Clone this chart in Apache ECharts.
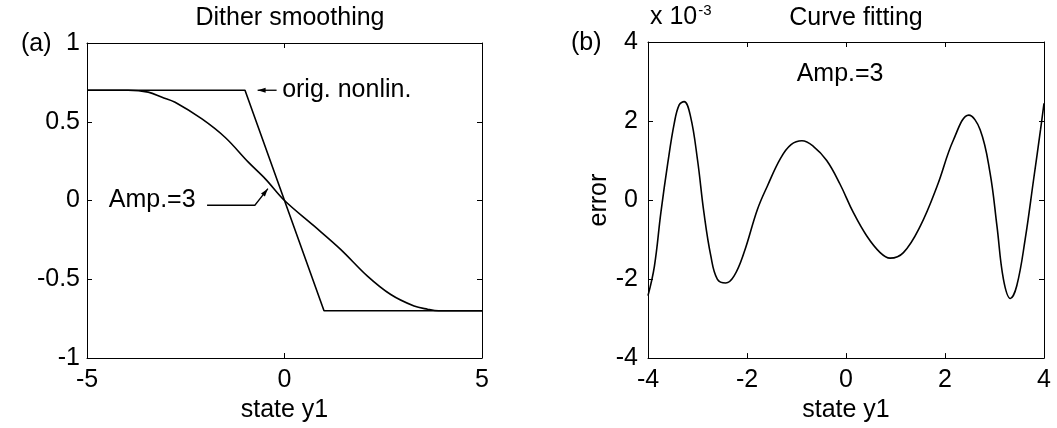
<!DOCTYPE html>
<html>
<head>
<meta charset="utf-8">
<script src="https://cdn.jsdelivr.net/npm/echarts@6/dist/echarts.min.js"></script>
<style>
  html, body { margin: 0; padding: 0; background: #fff; }
  #chart { width: 1057px; height: 428px; }
</style>
</head>
<body>
<div id="chart"></div>
<script>
// (a) original saturation nonlinearity
var satX = [-5, -1, 1, 5];
var satY = [0.7, 0.7, -0.7, -0.7];

// (a) dither-smoothed nonlinearity, Amp.=3
var ditherX = [-5, -4.5, -3.96, -3.45, -3.1, -2.77, -2.09, -1.5, -0.91, -0.48, 0, 0.74, 1.42, 2.1, 2.69, 3.28, 3.62, 3.9, 4.5, 5];
var ditherY = [0.7, 0.7, 0.7, 0.688, 0.656, 0.624, 0.518, 0.40, 0.242, 0.136, 0, -0.16, -0.31, -0.48, -0.597, -0.67, -0.69, -0.7, -0.7, -0.7];

// (b) curve fitting error, in units of 10^-3
var errX = [-4.0, -3.87, -3.74, -3.6, -3.47, -3.37, -3.27, -3.14, -3.0, -2.87, -2.73, -2.6, -2.43, -2.26, -2.06, -1.79, -1.59, -1.32, -1.11, -0.89, -0.66, -0.39, -0.12, 0.15, 0.42, 0.69, 0.89, 1.16, 1.5, 1.84, 2.17, 2.48, 2.71, 2.91, 3.05, 3.18, 3.32, 3.45, 3.62, 3.79, 3.93, 4.0];
var errY = [-2.42, -1.67, -0.32, 0.94, 1.94, 2.41, 2.49, 2.11, 1.02, -0.32, -1.42, -2.0, -2.1, -1.92, -1.33, -0.24, 0.35, 1.06, 1.4, 1.5, 1.36, 1.0, 0.4, -0.32, -0.91, -1.33, -1.47, -1.33, -0.66, 0.35, 1.52, 2.15, 1.78, 0.69, -0.66, -2.0, -2.49, -2.17, -0.99, 0.52, 1.78, 2.45];

function pairs(xs, ys) {
  var out = [];
  for (var i = 0; i < xs.length; i++) out.push([xs[i], ys[i]]);
  return out;
}

var FONT = 'Liberation Sans, Arial, sans-serif';
var FS = 25;

function axis(pos, grid, min, max, step, labels, margin) {
  return {
    type: 'value', gridIndex: grid, position: pos,
    min: min, max: max, interval: step,
    axisLine: { show: true, onZero: false, lineStyle: { color: '#000', width: 1 } },
    axisTick: { show: true, inside: true, length: 5, lineStyle: { color: '#000' } },
    axisLabel: { show: labels, color: '#000', fontSize: FS, fontFamily: FONT, margin: margin },
    splitLine: { show: false }
  };
}

var chart = echarts.init(document.getElementById('chart'));

var xa0 = axis('bottom', 0, -5, 5, 5, true, 10);
xa0.name = 'state y1'; xa0.nameLocation = 'middle'; xa0.nameGap = 39;
xa0.nameTextStyle = { color: '#000', fontSize: FS, fontFamily: FONT };
var xa1 = axis('bottom', 1, -4, 4, 2, true, 10);
xa1.name = 'state y1'; xa1.nameLocation = 'middle'; xa1.nameGap = 39;
xa1.nameTextStyle = { color: '#000', fontSize: FS, fontFamily: FONT };
var ya1 = axis('left', 1, -4, 4, 2, true, 10);
ya1.name = 'error'; ya1.nameLocation = 'middle'; ya1.nameGap = 33;
ya1.nameTextStyle = { color: '#000', fontSize: FS, fontFamily: FONT };

var lineStyle = { color: '#000', width: 1.6 };

var option = {
  animation: false,
  backgroundColor: '#fff',
  title: [
    { text: 'Dither smoothing', left: 285, top: 1, textAlign: 'center',
      textStyle: { color: '#000', fontSize: FS, fontWeight: 'normal', fontFamily: FONT } },
    { text: 'Curve fitting', left: 851, top: 1, textAlign: 'center',
      textStyle: { color: '#000', fontSize: FS, fontWeight: 'normal', fontFamily: FONT } }
  ],
  grid: [
    { left: 87, top: 43, width: 395, height: 315 },
    { left: 648, top: 42, width: 396, height: 317 }
  ],
  xAxis: [
    xa0,
    axis('top', 0, -5, 5, 5, false, 8),
    xa1,
    axis('top', 1, -4, 4, 2, false, 8)
  ],
  yAxis: [
    axis('left', 0, -1, 1, 0.5, true, 7),
    axis('right', 0, -1, 1, 0.5, false, 8),
    ya1,
    axis('right', 1, -4, 4, 2, false, 8)
  ],
  series: [
    { name: 'orig. nonlin.', type: 'line', xAxisIndex: 0, yAxisIndex: 0,
      data: pairs(satX, satY), showSymbol: false, lineStyle: lineStyle },
    { name: 'Amp.=3', type: 'line', xAxisIndex: 0, yAxisIndex: 0,
      data: pairs(ditherX, ditherY), smooth: 0.35,
      showSymbol: false, lineStyle: lineStyle },
    { name: 'error', type: 'line', xAxisIndex: 2, yAxisIndex: 2,
      data: pairs(errX, errY), smooth: 0.4,
      showSymbol: false, lineStyle: lineStyle }
  ]
};
chart.setOption(option);

// annotations placed in data coordinates
function px(grid, pt) {
  return chart.convertToPixel({ gridIndex: grid }, pt);
}
function arrowHead(tip, from) {
  var dx = tip[0] - from[0], dy = tip[1] - from[1];
  var len = Math.sqrt(dx * dx + dy * dy);
  var ux = dx / len, uy = dy / len;
  var L = 8, W = 2.5;
  var bx = tip[0] - ux * L, by = tip[1] - uy * L;
  return { type: 'polygon', shape: { points: [tip, [bx - uy * W, by + ux * W], [bx + uy * W, by - ux * W]] },
    style: { fill: '#000' } };
}
var txt = { fill: '#000', fontSize: FS, fontFamily: FONT };

var o1 = px(0, [-0.2, 0.7]), o2 = px(0, [-0.68, 0.7]);
var a1 = px(0, [-1.96, -0.03]), a2 = px(0, [-0.75, -0.03]), a3 = px(0, [-0.42, 0.075]);
var origTxt = px(0, [-0.06, 0.7]);
var ampTxt = px(0, [-2.25, 0]);
var ampTxt2 = px(1, [-0.12, 3.2]);

chart.setOption({
  graphic: [
    { type: 'text', x: 21, y: 44, style: Object.assign({ text: '(a)', verticalAlign: 'middle' }, txt) },
    { type: 'text', x: 571, y: 43, style: Object.assign({ text: '(b)', verticalAlign: 'middle' }, txt) },
    { type: 'text', x: 650, y: 17, style: {
        text: '{b|x 10}{s|-3}', verticalAlign: 'middle', fill: '#000',
        rich: { b: { fontSize: FS, fontFamily: FONT, fill: '#000' },
                s: { fontSize: 15, fontFamily: FONT, fill: '#000', verticalAlign: 'top', padding: [0, 0, 12, 1] } } } },
    { type: 'polyline', shape: { points: [o1, o2] }, style: { stroke: '#000', lineWidth: 1.3, fill: null } },
    arrowHead(o2, o1),
    { type: 'text', x: origTxt[0], y: origTxt[1], style: Object.assign({ text: 'orig. nonlin.', verticalAlign: 'middle' }, txt) },
    { type: 'polyline', shape: { points: [a1, a2, a3] }, style: { stroke: '#000', lineWidth: 1.3, fill: null } },
    arrowHead(a3, a2),
    { type: 'text', x: ampTxt[0], y: ampTxt[1], style: Object.assign({ text: 'Amp.=3', align: 'right', verticalAlign: 'middle' }, txt) },
    { type: 'text', x: ampTxt2[0], y: ampTxt2[1], style: Object.assign({ text: 'Amp.=3', align: 'center', verticalAlign: 'middle' }, txt) }
  ]
});
</script>
</body>
</html>
